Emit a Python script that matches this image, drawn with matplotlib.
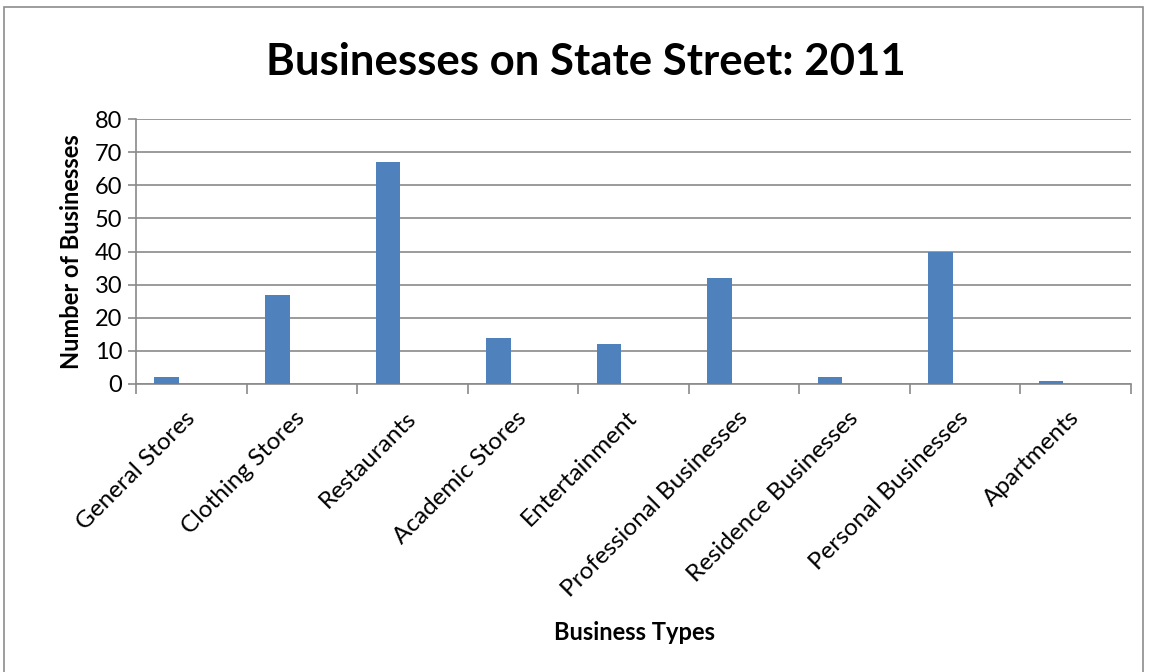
import matplotlib
matplotlib.use("Agg")
import matplotlib.pyplot as plt
from matplotlib.patches import Rectangle
from matplotlib.ticker import FixedLocator

categories = ["General Stores", "Clothing Stores", "Restaurants", "Academic Stores",
              "Entertainment", "Professional Businesses", "Residence Businesses",
              "Personal Businesses", "Apartments"]
counts = [2, 27, 67, 14, 12, 32, 2, 40, 1]
y_ticks = [0, 10, 20, 30, 40, 50, 60, 70, 80]

plt.rcParams["font.family"] = ["Lato", "DejaVu Sans"]

fig = plt.figure(figsize=(11.49, 6.72), dpi=100)
fig.patches.append(Rectangle((4 / 1149, -0.01), 1139 / 1149, 0.999, transform=fig.transFigure,
                             fill=False, edgecolor="#8c8c8c", linewidth=1.2))

ax = fig.add_axes([136 / 1149, 1 - 384 / 672, 995 / 1149, 265 / 672])

grid = "#8a8a8a"
bar_w = 0.222
x = [i - 0.5 + 0.167 + bar_w / 2 for i in range(len(categories))]
ax.bar(x, counts, width=bar_w, color="#4F81BD", zorder=3)

ax.set_xlim(-0.5, len(categories) - 0.5)
ax.set_ylim(0, 80)
ax.set_yticks(y_ticks)
ax.set_yticklabels([str(v) for v in y_ticks], fontsize=17)
ax.yaxis.grid(True, color=grid, linewidth=1.2, zorder=0)

ax.set_xticks(range(len(categories)))
ax.set_xticklabels(categories, rotation=45, ha="right", va="center",
                   rotation_mode="anchor", fontsize=17.5)
ax.xaxis.set_minor_locator(FixedLocator([i - 0.5 for i in range(len(categories) + 1)]))
ax.tick_params(axis="x", which="major", length=0, pad=22)
ax.tick_params(axis="x", which="minor", length=7, width=1.2, color=grid)
ax.tick_params(axis="y", length=6, width=1.2, color=grid, pad=4)

for side in ["top", "right"]:
    ax.spines[side].set_visible(False)
for side in ["left", "bottom"]:
    ax.spines[side].set_color(grid)
    ax.spines[side].set_linewidth(1.2)

fig.text(586 / 1149, 1 - 62 / 672, "Businesses on State Street: 2011", ha="center", va="center",
         fontsize=31.5, fontweight="bold")
ax.set_ylabel("Number of Businesses", fontsize=17, fontweight="bold", labelpad=8)
fig.text(634 / 1149, 1 - 632 / 672, "Business Types", ha="center", va="center",
         fontsize=17, fontweight="bold")

fig.savefig("out.png", dpi=100)
